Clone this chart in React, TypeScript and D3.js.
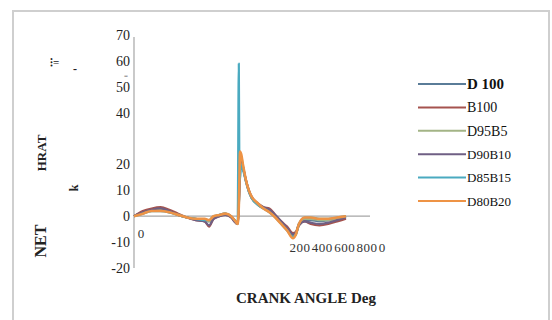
import React from 'react'
import { scaleLinear, scalePoint, line, curveMonotoneX } from 'd3'

// crank angle (deg)
const angles = [0, 30, 60, 90, 120, 150, 180, 210, 240, 255, 270, 290, 310, 330, 345, 352, 356, 358, 360, 364,
  370, 380, 390, 400, 420, 440, 460, 480, 500, 520, 540, 550, 560, 580, 600, 630, 660, 690, 720]

const d100 = [0, 1.5, 2.5, 2.5, 2, 0.5, -0.5, -1, -1.5, -2, -0.5, 0.5, 1, 0, -2, -3, 3, 12, 21, 22,
  19, 13.5, 9.5, 7, 4.5, 3, 2, 0, -2.5, -5, -7.5, -6.5, -3, -1.5, -1.5, -2, -1.5, -1, 0]
const b100 = [0, 2, 3, 3.5, 2.5, 1, -0.5, -1.5, -2, -4, -1, 0, 0.5, -0.5, -2.5, -3, 5, 12, 20, 22,
  19, 14, 10, 7, 5, 3.5, 3, 0.5, -2, -4, -6.5, -6, -3.5, -2, -3, -3.5, -3, -2, -1]
const d95b5 = [0, 1, 2, 2.5, 1.5, 0.5, -0.5, -1, -1.5, -2, -0.5, 0.5, 1, 0, -2, -3, 4, 13, 22, 23,
  19.5, 14, 10, 7, 4.5, 3, 2, 0, -2.5, -5, -8, -7, -3.5, -1, -1, -1.5, -1.5, -1, 0]
const d90b10 = [0, 1.5, 2.5, 3, 2, 0.5, -0.5, -1.5, -2, -3.5, -1, 0, 0.5, -0.5, -2.5, -3, 4, 12, 21, 22,
  19, 14, 10, 7.5, 5, 3.5, 2.5, 0.5, -2, -4.5, -7, -6.5, -3.5, -2, -2.5, -3, -2.5, -1.5, -0.5]
const d85b15 = [0, 1, 2, 2, 1.5, 0.5, -0.5, -1, -1.5, -1.5, 0, 0.5, 1, 0, -2, -3, 59, 15, 14, 20,
  18, 13.5, 9.5, 7, 4.5, 3, 1.5, -0.5, -3, -5.5, -8, -7, -3, -0.5, -0.5, -1, -1, -0.5, 0]
const d80b20 = [0, 1, 2, 2, 1.5, 0.5, -0.5, -1, -1, -1.5, 0, 0.5, 1, 0, -2, -3, 4, 14, 25, 24,
  20, 14, 10, 7.5, 5, 3, 1.5, -0.5, -3, -5.5, -8.5, -7, -3, -0.5, -0.5, -1, -1, -0.5, 0]

const seriesNames = ['D 100', 'B100', 'D95B5', 'D90B10', 'D85B15', 'D80B20']
const seriesValues = [d100, b100, d95b5, d90b10, d85b15, d80b20]
const seriesColors = ['#5a7c98', '#a5534e', '#a3b486', '#6f5f84', '#4aaac0', '#ee9345']
const legendFontSizes = [15, 14, 14, 13, 13, 13]

const yTicks = [70, 60, 50, 40, 20, 10, 0, -10, -20]
const xTickLabels = ['200', '400', '600', '800']

const W = 552
const H = 320

const App = () => {
  const x = scaleLinear().domain([0, 720]).range([134, 346])
  const y = scaleLinear().domain([-20, 70]).range([268, 35])

  const lineGen = line<number>()
    .x((_, i) => x(angles[i]))
    .y(v => y(v))
    .curve(curveMonotoneX)

  const xLabelPos = scalePoint<string>().domain(xTickLabels).range([300, 367])
  const legendY = scalePoint<string>().domain(seriesNames).range([84, 201])

  const serif = 'Liberation Serif, Times New Roman, serif'

  return (
    <svg width={W} height={H} style={{ position: 'absolute', left: 0, top: 0, background: '#fff' }}>
      {/* outer frame */}
      <path d="M13,322 L13,11 L549,11 L549,322" fill="none" stroke="#cfcfcf" strokeWidth={2} />

      {/* y axis */}
      <line x1={134} x2={134} y1={y(70) + 2} y2={y(-20)} stroke="#a6a6a6" strokeWidth={1.2} />
      {yTicks.map(t => (
        <text key={t} x={130} y={y(t)} dy="0.35em" textAnchor="end" fontFamily={serif} fontSize={14} fill="#222">
          {t}
        </text>
      ))}
      <text x={126} y={78} textAnchor="middle" fontFamily={serif} fontSize={7} fill="#555">=</text>

      {/* x axis at zero */}
      <line x1={134} x2={370} y1={y(0)} y2={y(0)} stroke="#a6a6a6" strokeWidth={1.2} />
      <text x={141} y={238} textAnchor="middle" fontFamily={serif} fontSize={13} fill="#333">0</text>
      {xTickLabels.map(l => (
        <text key={l} x={xLabelPos(l)} y={252} textAnchor="middle" fontFamily={serif} fontSize={13}
          letterSpacing={0.5} fill="#333">
          {l}
        </text>
      ))}
      <text x={382} y={252} textAnchor="middle" fontFamily={serif} fontSize={13} fill="#333">0</text>

      {/* series */}
      {seriesValues.map((vals, i) => (
        <path key={seriesNames[i]} d={lineGen(vals) || ''} fill="none" stroke={seriesColors[i]}
          strokeWidth={i === 5 ? 2.6 : 2.2} strokeLinejoin="round" />
      ))}

      {/* legend */}
      {seriesNames.map((n, i) => (
        <g key={n} transform={`translate(0,${legendY(n)})`}>
          <line x1={418} x2={466} y1={0} y2={0} stroke={seriesColors[i]} strokeWidth={2} />
          <text x={467} y={0} dy="0.35em" fontFamily={serif} fontSize={legendFontSizes[i]}
            fontWeight={i === 0 ? 'bold' : 'normal'} fill="#111">
            {n}
          </text>
        </g>
      ))}

      {/* axis titles */}
      <text x={306} y={303} textAnchor="middle" fontFamily={serif} fontSize={15} fontWeight="bold" fill="#222">
        CRANK ANGLE Deg
      </text>
      <text transform="translate(46,241) rotate(-90)" textAnchor="middle" fontFamily={serif} fontSize={16}
        fontWeight="bold" fill="#222">
        NET
      </text>
      <text transform="translate(46,153) rotate(-90)" textAnchor="middle" fontFamily={serif} fontSize={13}
        fontWeight="bold" fill="#222">
        HRAT
      </text>
      <text transform="translate(78,188) rotate(-90)" textAnchor="middle" fontFamily={serif} fontSize={12}
        fontWeight="bold" fill="#222">
        k
      </text>
      <text x={50} y={66} fontFamily={serif} fontSize={11} fontWeight="bold" fill="#222">⁝=</text>
      <text x={73} y={73} fontFamily={serif} fontSize={12} fontWeight="bold" fill="#222">-</text>
    </svg>
  )
}

export default App
